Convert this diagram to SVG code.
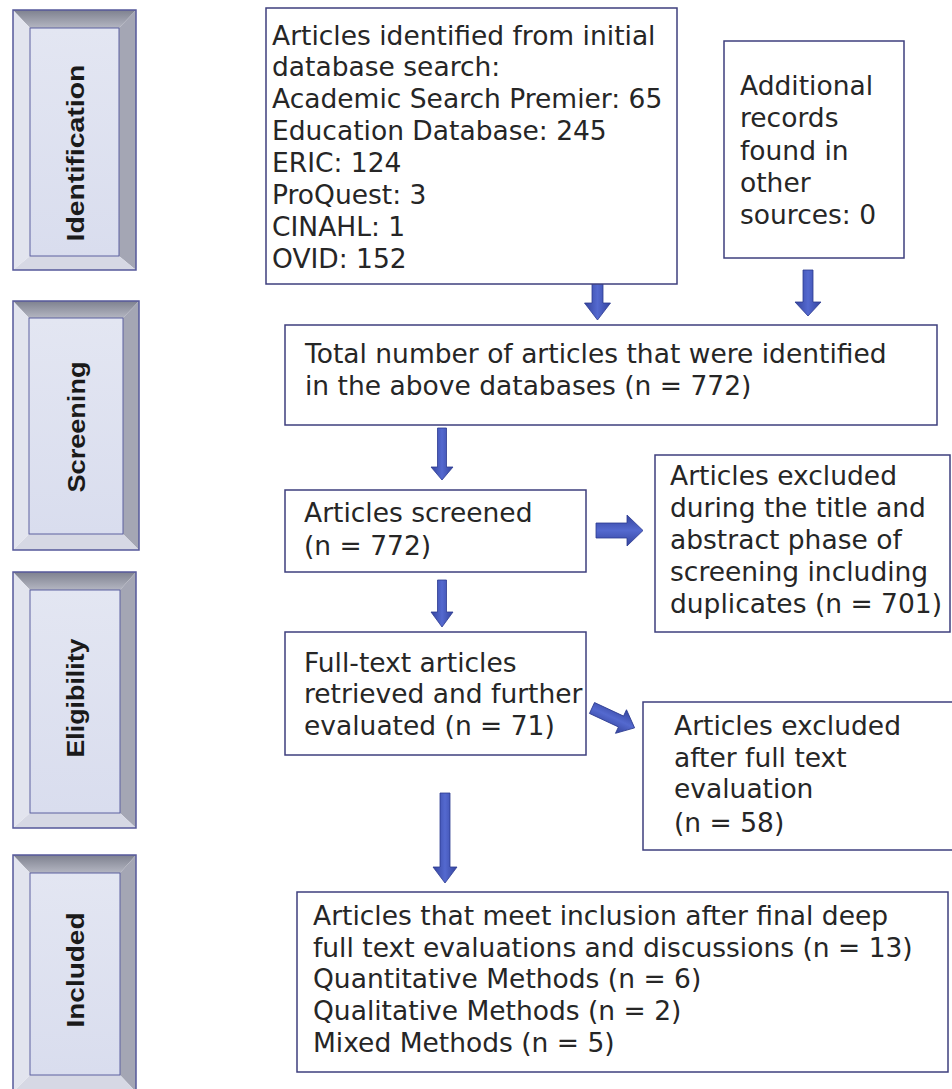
<svg xmlns="http://www.w3.org/2000/svg" width="952" height="1089" viewBox="0 0 952 1089">
<defs>
<style>
.box{fill:#ffffff;stroke:#3e3f7e;stroke-width:1.5}
.t{font-family:"DejaVu Sans",Verdana,sans-serif;font-size:26.5px;fill:#262626}
.side{font-family:"Liberation Sans",Arial,sans-serif;font-weight:bold;font-size:24px;fill:#1a1a1a}
.outer{fill:none;stroke:#55589a;stroke-width:1.5}
.inner{fill:url(#panel);stroke:#5c60a0;stroke-width:1}
.ftop{fill:url(#topg)}
.fright{fill:#a4a6b4}
.fbot{fill:#d6d8e4}
.fleft{fill:#e2e4ee}
.arr{fill:url(#ag);stroke:#2c3a90;stroke-width:0.8}
</style>
<linearGradient id="topg" x1="0" y1="0" x2="0" y2="1">
<stop offset="0" stop-color="#7e818f"/>
<stop offset="1" stop-color="#b4b6c2"/>
</linearGradient>
<linearGradient id="panel" x1="0" y1="0" x2="0" y2="1">
<stop offset="0" stop-color="#e3e6f2"/>
<stop offset="1" stop-color="#d9ddee"/>
</linearGradient>
<linearGradient id="ag" x1="0" y1="0" x2="1" y2="0">
<stop offset="0" stop-color="#34449e"/>
<stop offset="0.5" stop-color="#5469cf"/>
<stop offset="1" stop-color="#34449e"/>
</linearGradient>
<linearGradient id="agh" x1="0" y1="0" x2="0" y2="1">
<stop offset="0" stop-color="#34449e"/>
<stop offset="0.5" stop-color="#5469cf"/>
<stop offset="1" stop-color="#34449e"/>
</linearGradient>
</defs>
<rect width="952" height="1089" fill="#ffffff"/>

<g id="stage-identification">
<polygon class="ftop" points="13,10 136,10 119,28 30,28"/>
<polygon class="fright" points="136,10 136,270 119,256 119,28"/>
<polygon class="fbot" points="13,270 136,270 119,256 30,256"/>
<polygon class="fleft" points="13,10 30,28 30,256 13,270"/>
<rect class="inner" x="30" y="28" width="89" height="228"/>
<rect class="outer" x="13" y="10" width="123" height="260"/>
<text class="side" transform="translate(84,153) rotate(-90)" text-anchor="middle" textLength="177" lengthAdjust="spacingAndGlyphs">Identification</text>
</g>

<g id="stage-screening">
<polygon class="ftop" points="13,301 139,301 123,318 29,318"/>
<polygon class="fright" points="139,301 139,550 123,534 123,318"/>
<polygon class="fbot" points="13,550 139,550 123,534 29,534"/>
<polygon class="fleft" points="13,301 29,318 29,534 13,550"/>
<rect class="inner" x="29" y="318" width="94" height="216"/>
<rect class="outer" x="13" y="301" width="126" height="249"/>
<text class="side" transform="translate(85,427) rotate(-90)" text-anchor="middle" textLength="131" lengthAdjust="spacingAndGlyphs">Screening</text>
</g>

<g id="stage-eligibility">
<polygon class="ftop" points="13,572 136,572 120,590 30,590"/>
<polygon class="fright" points="136,572 136,828 120,813 120,590"/>
<polygon class="fbot" points="13,828 136,828 120,813 30,813"/>
<polygon class="fleft" points="13,572 30,590 30,813 13,828"/>
<rect class="inner" x="30" y="590" width="90" height="223"/>
<rect class="outer" x="13" y="572" width="123" height="256"/>
<text class="side" transform="translate(84,698) rotate(-90)" text-anchor="middle" textLength="119" lengthAdjust="spacingAndGlyphs">Eligibility</text>
</g>

<g id="stage-included">
<polygon class="ftop" points="13,855 136,855 120,873 30,873"/>
<polygon class="fright" points="136,855 136,1092 120,1075 120,873"/>
<polygon class="fbot" points="13,1092 136,1092 120,1075 30,1075"/>
<polygon class="fleft" points="13,855 30,873 30,1075 13,1092"/>
<rect class="inner" x="30" y="873" width="90" height="202"/>
<rect class="outer" x="13" y="855" width="123" height="237"/>
<text class="side" transform="translate(84,970) rotate(-90)" text-anchor="middle" textLength="115" lengthAdjust="spacingAndGlyphs">Included</text>
</g>

<g id="connectors">
<polygon class="arr" points="592,276 603,276 603,303 610.5,303 597.5,320 584.5,303 592,303"/>
<polygon class="arr" points="803,270 813,270 813,302 821,302 808,316 795,302 803,302"/>
<polygon class="arr" points="437.5,428 446.5,428 446.5,467 453,467 442,480 431,467 437.5,467"/>
<polygon class="arr" points="437.5,580 446.5,580 446.5,612 453,612 442,627 431,612 437.5,612"/>
<polygon class="arr" points="440,793 450,793 450,867 457,867 445,883 433,867 440,867"/>
<polygon class="arr" style="fill:url(#agh)" points="596,523 627,523 627,515 643,530.5 627,546 627,538 596,538"/>
<polygon class="arr" style="fill:url(#agh)" transform="translate(592,708) rotate(25)" points="0,-6 32,-6 32,-13 47,0 32,13 32,6 0,6"/>
</g>

<g id="n-initial">
<rect class="box" x="266" y="8" width="411" height="276"/>
<text class="t" x="272" y="45">Articles identified from initial</text>
<text class="t" x="272" y="76">database search:</text>
<text class="t" x="272" y="108">Academic Search Premier: 65</text>
<text class="t" x="272" y="140">Education Database: 245</text>
<text class="t" x="272" y="172">ERIC: 124</text>
<text class="t" x="272" y="204">ProQuest: 3</text>
<text class="t" x="272" y="236">CINAHL: 1</text>
<text class="t" x="272" y="268">OVID: 152</text>
</g>

<g id="n-additional">
<rect class="box" x="724" y="41" width="180" height="217"/>
<text class="t" x="740" y="95">Additional</text>
<text class="t" x="740" y="127">records</text>
<text class="t" x="740" y="160">found in</text>
<text class="t" x="740" y="192">other</text>
<text class="t" x="740" y="224">sources: 0</text>
</g>

<g id="n-total">
<rect class="box" x="285" y="325" width="652" height="100"/>
<text class="t" x="305" y="363">Total number of articles that were identified</text>
<text class="t" x="305" y="395">in the above databases (n = 772)</text>
</g>

<g id="n-screened">
<rect class="box" x="285" y="490" width="301" height="82"/>
<text class="t" x="304" y="522">Articles screened</text>
<text class="t" x="304" y="555">(n = 772)</text>
</g>

<g id="n-excluded1">
<rect class="box" x="655" y="455" width="295" height="177"/>
<text class="t" x="670" y="485">Articles excluded</text>
<text class="t" x="670" y="517">during the title and</text>
<text class="t" x="670" y="549">abstract phase of</text>
<text class="t" x="670" y="581">screening including</text>
<text class="t" x="670" y="613">duplicates (n = 701)</text>
</g>

<g id="n-fulltext">
<rect class="box" x="285" y="632" width="301" height="123"/>
<text class="t" x="304" y="672">Full-text articles</text>
<text class="t" x="304" y="703">retrieved and further</text>
<text class="t" x="304" y="735">evaluated (n = 71)</text>
</g>

<g id="n-excluded2">
<rect class="box" x="643" y="702" width="310" height="148"/>
<text class="t" x="674" y="735">Articles excluded</text>
<text class="t" x="674" y="767">after full text</text>
<text class="t" x="674" y="798">evaluation</text>
<text class="t" x="674" y="832">(n = 58)</text>
</g>

<g id="n-included">
<rect class="box" x="297" y="892" width="651" height="180"/>
<text class="t" x="313" y="925">Articles that meet inclusion after final deep</text>
<text class="t" x="313" y="957">full text evaluations and discussions (n = 13)</text>
<text class="t" x="313" y="988">Quantitative Methods (n = 6)</text>
<text class="t" x="313" y="1020">Qualitative Methods (n = 2)</text>
<text class="t" x="313" y="1052">Mixed Methods (n = 5)</text>
</g>
</svg>
